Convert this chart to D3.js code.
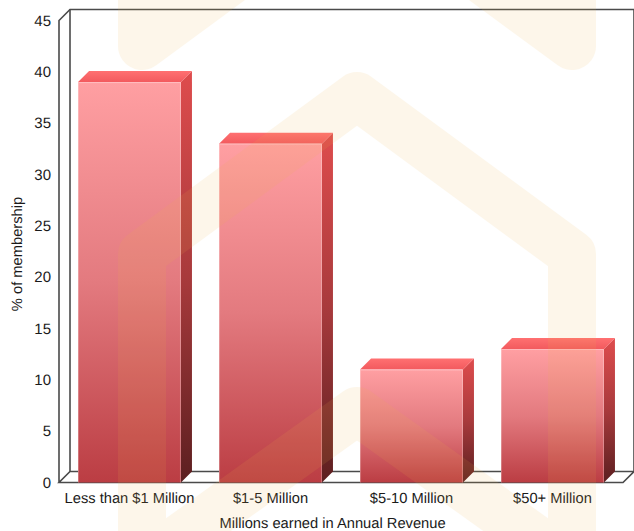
<!DOCTYPE html>
<html>
<head>
<meta charset="utf-8">
<script src="https://cdn.jsdelivr.net/npm/d3@7"></script>
<style>
html,body{margin:0;padding:0;background:#fff;}
svg{display:block;font-family:"Liberation Sans",Arial,sans-serif;text-rendering:geometricPrecision;}
</style>
</head>
<body>
<svg id="c" width="634" height="531"></svg>
<script>
const categories = ["Less than $1 Million","$1-5 Million","$5-10 Million","$50+ Million"];
const values = [39, 33, 11, 13];
const yTicks = [0,5,10,15,20,25,30,35,40,45];
const xTitle = "Millions earned in Annual Revenue";
const yTitle = "% of membership";

const depth = 11;
const x0 = 59, x1 = 623, y0 = 482.5, y1 = 20.5;
const svg = d3.select("#c");
const x = d3.scaleBand().domain(categories).range([x0, x1]).paddingInner(0.27).paddingOuter(0.135);
const y = d3.scaleLinear().domain([0,45]).range([y0, y1]);
const line = d3.line();

const defs = svg.append("defs");
function grad(id, stops){
  const g = defs.append("linearGradient").attr("id",id).attr("x1",0).attr("y1",0).attr("x2",0).attr("y2",1);
  stops.forEach(s=>g.append("stop").attr("offset",s[0]).attr("stop-color",s[1]));
}
grad("front",[[0,"#ff9fa2"],[0.5,"#e37a7f"],[1,"#bb3d43"]]);
grad("side",[[0,"#de4c4d"],[0.5,"#a83a3c"],[1,"#5c1f20"]]);
grad("top",[[0,"#ff7071"],[1,"#f25a5e"]]);

// plot box
const frame = svg.append("g").attr("fill","none").attr("stroke","#4a4a4a").attr("stroke-width",1.6);
const xr = x1 + depth, yt = y1 - depth, yb = y0 - depth, xl = x0 + depth;
frame.append("path").attr("d", line([[x0,y0],[x0,y1],[xl,yt],[xr,yt],[xr,yb],[x1,y0],[x0,y0],[xl,yb],[xr,yb]]));
frame.append("path").attr("d", line([[xl,yt],[xl,yb]]));

// bars
const bars = svg.append("g").selectAll("g").data(categories.map((c,i)=>({c,v:values[i]}))).join("g");
bars.append("path").attr("fill","url(#side)")
  .attr("d",d=>{const r=x(d.c)+x.bandwidth();return line([[r,y(d.v)],[r+depth,y(d.v)-depth],[r+depth,y0-depth],[r,y0]])+"Z";});
bars.append("path").attr("fill","url(#top)")
  .attr("d",d=>{const l=x(d.c),r=l+x.bandwidth();return line([[l,y(d.v)],[l+depth,y(d.v)-depth],[r+depth,y(d.v)-depth],[r,y(d.v)]])+"Z";});
bars.append("rect").attr("fill","url(#front)")
  .attr("x",d=>x(d.c)).attr("y",d=>y(d.v)).attr("width",x.bandwidth()).attr("height",d=>y0-y(d.v));
bars.append("path").attr("fill","none").attr("stroke","#ffffff").attr("stroke-opacity",0.25).attr("stroke-width",1)
  .attr("d",d=>{const l=x(d.c)+.5,r=l+x.bandwidth()-1,t=y(d.v)+.5;return line([[l,y0],[l,t],[r,t],[r,y0]]);});

// axes
const yAxis = d3.axisLeft(y).tickValues(yTicks).tickSize(0).tickPadding(8);
const gy = svg.append("g").attr("transform",`translate(${x0},0)`).call(yAxis);
gy.select(".domain").remove();
gy.selectAll("text").attr("font-size",15).attr("font-family","Liberation Sans").attr("fill","#1a1a1a");

const xAxis = d3.axisBottom(x).tickSize(0).tickPadding(10);
const gx = svg.append("g").attr("transform",`translate(0,${y0})`).call(xAxis);
gx.select(".domain").remove();
gx.selectAll("text").attr("font-size",14.7).attr("font-family","Liberation Sans").attr("fill","#1a1a1a");

svg.append("text").attr("x",332.5).attr("y",528).attr("text-anchor","middle")
  .attr("font-size",14.7).attr("fill","#1a1a1a").text(xTitle);
svg.append("text").attr("transform","translate(22,254) rotate(-90)").attr("text-anchor","middle")
  .attr("font-size",14.7).attr("fill","#1a1a1a").text(yTitle);

// watermark, laid translucent over the chart
const wmColor = "rgb(238,180,72)";
const mark = svg.append("g").attr("opacity",0.11)
  .attr("fill","none").attr("stroke",wmColor).attr("stroke-width",48).attr("stroke-linejoin","round").attr("stroke-linecap","butt");
mark.append("path").attr("fill",wmColor)
  .attr("d", line([[142,46],[142,-60],[286,-60]])+"Z");
mark.append("path").attr("fill",wmColor)
  .attr("d", line([[572,46],[572,-60],[428,-60]])+"Z");
mark.append("path")
  .attr("d", line([[142,570],[142,254],[357,96],[572,254],[572,570]]));
mark.append("path")
  .attr("d", line([[142,565],[357,411],[572,565]]));
</script>
</body>
</html>
